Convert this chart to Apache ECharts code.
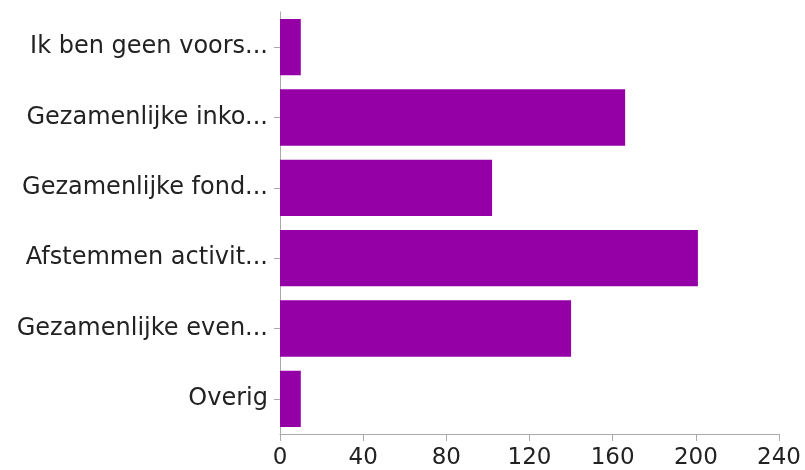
<!DOCTYPE html>
<html>
<head>
<meta charset="utf-8">
<script src="https://cdn.jsdelivr.net/npm/echarts@6/dist/echarts.min.js"></script>
<style>html,body{margin:0;padding:0;background:#fff}#c{width:805px;height:470px}</style>
</head>
<body>
<div id="c"></div>
<script>
const categories = ["Ik ben geen voors...", "Gezamenlijke inko...", "Gezamenlijke fond...", "Afstemmen activit...", "Gezamenlijke even...", "Overig"];
const values = [10, 166, 102, 201, 140, 10];
const xTicks = [0, 40, 80, 120, 160, 200, 240];

const chart = echarts.init(document.getElementById('c'), null, {renderer: 'canvas'});
const font = "'DejaVu Sans', Arial, Helvetica, sans-serif";
chart.setOption({
  animation: false,
  grid: {left: 280, right: 26, top: 12, bottom: 36, containLabel: false},
  xAxis: {
    type: 'value', min: xTicks[0], max: xTicks[xTicks.length - 1], interval: 40,
    axisLine: {show: true, lineStyle: {color: '#aaa', width: 1}},
    axisTick: {show: true, length: 7, lineStyle: {color: '#aaa'}},
    splitLine: {show: false},
    axisLabel: {color: '#222', fontSize: 23, fontFamily: font, margin: 13}
  },
  yAxis: {
    type: 'category', data: categories, inverse: true,
    axisLine: {show: true, lineStyle: {color: '#aaa', width: 1}},
    axisTick: {show: true, alignWithLabel: true, length: 6, lineStyle: {color: '#aaa'}},
    axisLabel: {color: '#222', fontSize: 24, fontFamily: font, margin: 12}
  },
  series: [{
    type: 'bar', data: values, barCategoryGap: '20%',
    itemStyle: {color: '#9400a6'}
  }]
});
</script>
</body>
</html>
